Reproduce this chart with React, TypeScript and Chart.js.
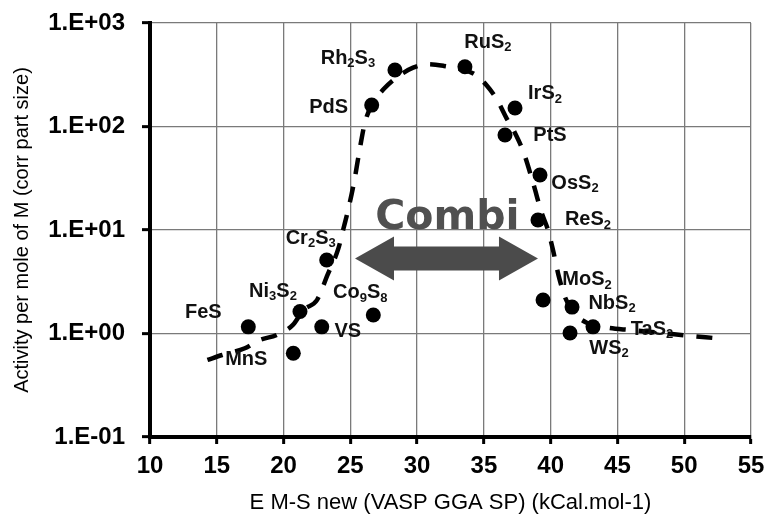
import { useEffect, useRef } from "react";
import { Chart, registerables } from "chart.js";

Chart.register(...registerables);

// ---- data ----
const compounds = ["FeS", "MnS", "Ni3S2", "VS", "Cr2S3", "Co9S8", "PdS", "Rh2S3", "RuS2", "IrS2", "PtS", "OsS2", "ReS2", "MoS2", "NbS2", "WS2", "TaS2"];
const bindingEnergy = [17.36, 20.73, 21.23, 22.86, 23.23, 26.72, 26.6, 28.34, 33.58, 37.33, 36.58, 39.2, 39.05, 39.43, 41.6, 41.45, 43.17];
const activity = [1.16, 0.644, 1.63, 1.16, 5.13, 1.51, 161, 351, 378, 151, 82.8, 34, 12.5, 2.11, 1.8, 1.01, 1.16];

// label offsets (px) from each point
const labelDx = [-45, -47, -27, 26, -16, -13, -43, -47, 23, 30, 45, 35, 50, 44, 40, 39, 59];
const labelDy = [-14, 6, -20, 5, -22, -22, 2, -12, -24, -14, 1, 8, 0, -20, -4, 15, 3];

// volcano fit (dashed curve)
const fitX = [14.3, 15.4, 17.1, 18.2, 19.5, 20.7, 21.5, 22.5, 23.3, 24.1, 24.5, 24.9, 25.3, 25.7, 26.1, 26.6, 27.5, 28.5, 29.7, 30.8, 32, 33.3, 34.3, 35.2, 36, 36.7, 37.3, 38, 38.7, 39.3, 39.8, 40.2, 40.6, 41.1, 41.7, 42.7, 44.2, 46, 48, 50, 52.4];
const fitY = [0.555, 0.62, 0.72, 0.865, 0.97, 1.21, 1.69, 2.1, 3.7, 6.6, 10.5, 17, 30, 60, 110, 160, 230, 300, 370, 400, 385, 355, 320, 250, 180, 120, 88, 55, 28, 15, 10, 6.2, 3.6, 2.2, 1.6, 1.27, 1.14, 1.08, 1.02, 0.96, 0.9];

const xTickValues = [10, 15, 20, 25, 30, 35, 40, 45, 50, 55];
const yTickValues = [0.1, 1, 10, 100, 1000];
const yTickLabels = ["1.E-01", "1.E+00", "1.E+01", "1.E+02", "1.E+03"];

const xTitle = "E M-S new (VASP GGA SP) (kCal.mol-1)";
const yTitle = "Activity per mole of M (corr part size)";

const annotationText = "Combi";
const arrowFromX = 25.35;
const arrowToX = 39.05;
const arrowAtY = 5.3;
const annotationTextX = 32.27;
const annotationTextY = 10.2;

const FONT = "'Liberation Sans', Arial, sans-serif";

function drawRich(ctx: CanvasRenderingContext2D, text: string, cx: number, cy: number) {
  const parts = text.split(/(\d+)/).filter((p) => p.length > 0);
  const mainFont = `bold 20px ${FONT}`;
  const subFont = `bold 13px ${FONT}`;
  let total = 0;
  const widths: number[] = [];
  for (const p of parts) {
    ctx.font = /^\d+$/.test(p) ? subFont : mainFont;
    const w = ctx.measureText(p).width;
    widths.push(w);
    total += w;
  }
  let x = cx - total / 2;
  ctx.textAlign = "left";
  ctx.textBaseline = "middle";
  ctx.fillStyle = "#111";
  parts.forEach((p, i) => {
    const sub = /^\d+$/.test(p);
    ctx.font = sub ? subFont : mainFont;
    ctx.fillText(p, x, sub ? cy + 5 : cy);
    x += widths[i];
  });
}

const annotationPlugin = {
  id: "combiArrow",
  beforeDatasetsDraw(chart: any) {
    const { ctx, scales } = chart;
    const xs = scales.x;
    const ys = scales.y;
    const x1 = xs.getPixelForValue(arrowFromX);
    const x2 = xs.getPixelForValue(arrowToX);
    const yc = ys.getPixelForValue(arrowAtY);
    const headL = 39;
    const headH = 22;
    const shaftH = 12;
    ctx.save();
    ctx.fillStyle = "#4b4b4b";
    ctx.beginPath();
    ctx.moveTo(x1, yc);
    ctx.lineTo(x1 + headL, yc - headH);
    ctx.lineTo(x1 + headL, yc - shaftH);
    ctx.lineTo(x2 - headL, yc - shaftH);
    ctx.lineTo(x2 - headL, yc - headH);
    ctx.lineTo(x2, yc);
    ctx.lineTo(x2 - headL, yc + headH);
    ctx.lineTo(x2 - headL, yc + shaftH);
    ctx.lineTo(x1 + headL, yc + shaftH);
    ctx.lineTo(x1 + headL, yc + headH);
    ctx.closePath();
    ctx.fill();
    ctx.font = "bold 41px 'DejaVu Sans', sans-serif";
    ctx.textAlign = "center";
    ctx.textBaseline = "alphabetic";
    ctx.fillStyle = "#505050";
    ctx.fillText(annotationText, xs.getPixelForValue(annotationTextX), ys.getPixelForValue(annotationTextY));
    ctx.restore();
  },
};

const labelPlugin = {
  id: "pointLabels",
  afterDatasetsDraw(chart: any) {
    const { ctx } = chart;
    const meta = chart.getDatasetMeta(0);
    ctx.save();
    meta.data.forEach((el: any, i: number) => {
      drawRich(ctx, compounds[i], el.x + labelDx[i], el.y + labelDy[i]);
    });
    ctx.restore();
  },
};

function noOverflow(s: any) {
  s.paddingLeft = 0;
  s.paddingRight = 0;
  s.paddingTop = 0;
  s.paddingBottom = 0;
}

export default function App() {
  const canvasRef = useRef<HTMLCanvasElement | null>(null);

  useEffect(() => {
    if (!canvasRef.current) return;
    const chart = new Chart(canvasRef.current, {
      type: "scatter",
      data: {
        datasets: [
          {
            label: "compounds",
            data: bindingEnergy.map((x, i) => ({ x, y: activity[i] })),
            backgroundColor: "#000",
            borderColor: "#000",
            borderWidth: 0,
            pointRadius: 7.5,
            order: 0,
          },
          {
            label: "fit",
            data: fitX.map((x, i) => ({ x, y: fitY[i] })),
            showLine: true,
            borderColor: "#000",
            borderWidth: 4.5,
            borderDash: [16, 13],
            borderCapStyle: "butt",
            pointRadius: 0,
            cubicInterpolationMode: "monotone",
            fill: false,
            order: 1,
          } as any,
        ],
      },
      options: {
        responsive: false,
        animation: false,
        layout: { padding: { top: 23, right: 13, left: 0, bottom: 0 } },
        plugins: {
          legend: { display: false },
          tooltip: { enabled: false },
        },
        scales: {
          x: {
            type: "linear",
            min: 10,
            max: 55,
            afterBuildTicks: (s: any) => {
              s.ticks = xTickValues.map((v) => ({ value: v }));
            },
            afterFit: (s: any) => {
              s.height = 78;
              noOverflow(s);
            },
            ticks: {
              font: { family: FONT, size: 24, weight: "bold" },
              color: "#000",
              padding: 8,
              maxRotation: 0,
              autoSkip: false,
            },
            grid: { color: "#7a7a7a", lineWidth: 1.3, tickColor: "#000", tickWidth: 3, tickLength: 7 },
            border: { color: "#000", width: 4 },
            title: {
              display: true,
              text: xTitle,
              font: { family: FONT, size: 22, lineHeight: 1 },
              color: "#000",
              padding: { top: 0, bottom: 1 },
            },
          },
          y: {
            type: "logarithmic",
            min: 0.1,
            max: 1000,
            afterBuildTicks: (s: any) => {
              s.ticks = yTickValues.map((v) => ({ value: v }));
            },
            afterFit: (s: any) => {
              s.width = 150;
              noOverflow(s);
            },
            ticks: {
              font: { family: FONT, size: 24, weight: "bold" },
              color: "#000",
              padding: 17,
              autoSkip: false,
              callback: (_v: any, i: number) => yTickLabels[i],
            },
            grid: { color: "#7a7a7a", lineWidth: 1.3, tickColor: "#000", tickWidth: 3, tickLength: 8 },
            border: { color: "#000", width: 4 },
            title: {
              display: true,
              text: yTitle,
              font: { family: FONT, size: 20 },
              color: "#000",
              padding: { top: 10, bottom: 0 },
            },
          },
        },
      },
      plugins: [annotationPlugin, labelPlugin],
    });
    return () => chart.destroy();
  }, []);

  return (
    <canvas
      ref={canvasRef}
      width={764}
      height={515}
      style={{ position: "absolute", left: 0, top: 0, display: "block", background: "#fff" }}
    />
  );
}
